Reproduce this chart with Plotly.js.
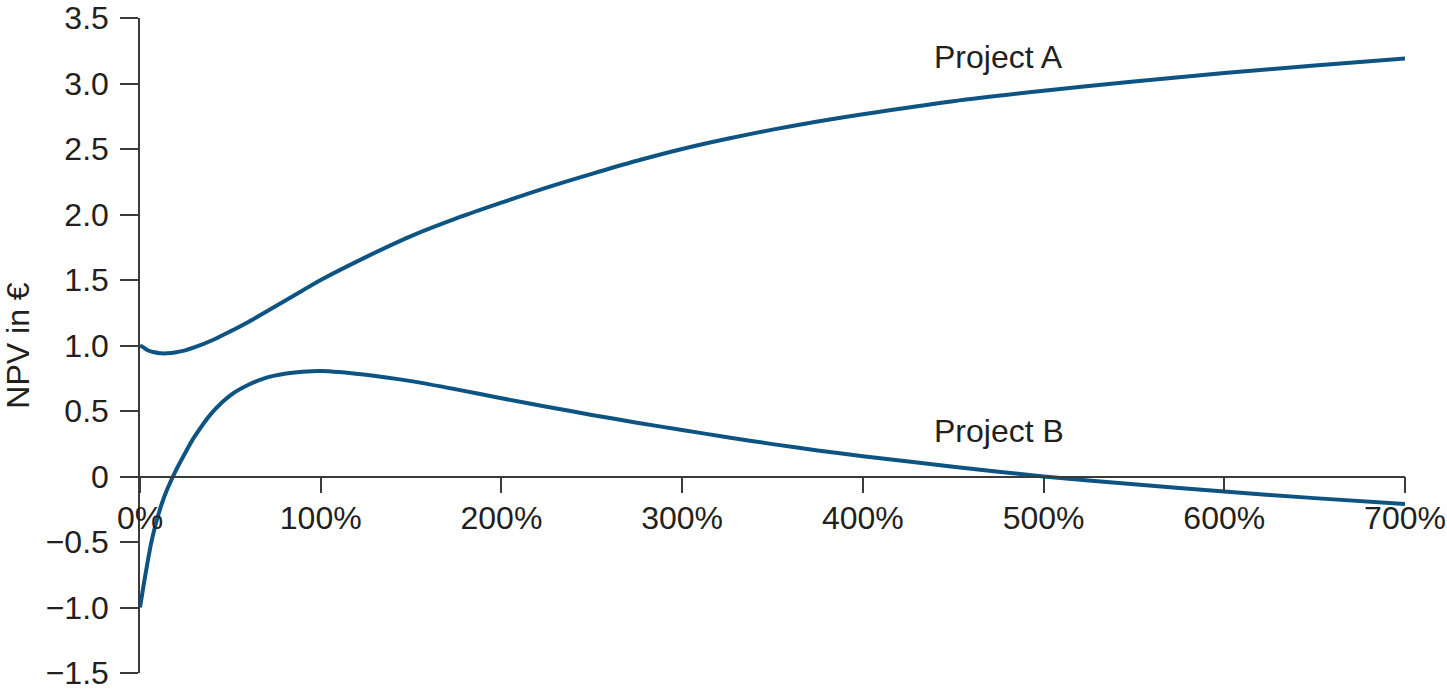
<!DOCTYPE html>
<html>
<head>
<meta charset="utf-8">
<script src="https://cdn.plot.ly/plotly-3.0.1.min.js"></script>
<style>
  html, body { margin: 0; padding: 0; background: #ffffff; }
  #chart { width: 1447px; height: 690px; }
</style>
</head>
<body>
<div id="chart"></div>
<script>
// Discount rate in percent
const rates = [0, 2, 4, 6, 8, 10, 12, 15, 20, 25, 30, 40, 50, 60, 70, 80, 90, 100, 125, 150, 175, 200, 225, 250, 275, 300, 325, 350, 375, 400, 450, 500, 550, 600, 650, 700];
// NPV in € – Project A
const npvA = [1.00, 0.985, 0.966, 0.955, 0.948, 0.943, 0.94, 0.94, 0.948, 0.963, 0.985, 1.04, 1.108, 1.18, 1.26, 1.34, 1.42, 1.50, 1.675, 1.835, 1.97, 2.09, 2.205, 2.31, 2.41, 2.50, 2.578, 2.648, 2.71, 2.765, 2.865, 2.945, 3.015, 3.08, 3.137, 3.19];
// NPV in € – Project B
const npvB = [-1.00, -0.83, -0.67, -0.52, -0.40, -0.30, -0.21, -0.10, 0.05, 0.18, 0.30, 0.49, 0.62, 0.70, 0.755, 0.785, 0.80, 0.806, 0.777, 0.728, 0.665, 0.597, 0.533, 0.47, 0.411, 0.355, 0.30, 0.247, 0.199, 0.155, 0.075, 0.00, -0.06, -0.115, -0.165, -0.21];

const xTickVals = [0, 100, 200, 300, 400, 500, 600, 700];
const xTickText = ["0%", "100%", "200%", "300%", "400%", "500%", "600%", "700%"];
const yTickVals = [3.5, 3.0, 2.5, 2.0, 1.5, 1.0, 0.5, 0, -0.5, -1.0, -1.5];
const yTickText = ["3.5", "3.0", "2.5", "2.0", "1.5", "1.0", "0.5", "0", "\u22120.5", "\u22121.0", "\u22121.5"];

const seriesNames = ["Project A", "Project B"];
const axisTitleY = "NPV in \u20ac";
const axisLabelX = "Discount rate";

const lineColor = "#0d5482";
const textColor = "#231f20";
const axisColor = "#3a3a3a";
const fontFamily = "'Liberation Sans', Arial, Helvetica, sans-serif";
const fs = 32;

const traces = [
  { x: rates, y: npvA, name: seriesNames[0], mode: "lines",
    line: { color: lineColor, width: 4, shape: "spline", smoothing: 0.8 }, hoverinfo: "x+y" },
  { x: rates, y: npvB, name: seriesNames[1], mode: "lines",
    line: { color: lineColor, width: 4, shape: "spline", smoothing: 0.8 }, hoverinfo: "x+y" }
];

const layout = {
  width: 1447, height: 690,
  margin: { l: 140, r: 42, t: 18, b: 17 },
  paper_bgcolor: "#ffffff", plot_bgcolor: "#ffffff",
  showlegend: false,
  font: { family: fontFamily, size: fs, color: textColor },
  xaxis: {
    range: [0, 700], fixedrange: true,
    anchor: "free", position: 0.3,
    showgrid: false, zeroline: false,
    showline: true, linecolor: axisColor, linewidth: 1.5,
    ticks: "outside", ticklen: 16, tickwidth: 1.5, tickcolor: axisColor,
    tickvals: xTickVals, ticktext: xTickText,
    tickfont: { family: fontFamily, size: fs, color: textColor },
    ticklabelstandoff: -3,
    ticklabeloverflow: "allow",
    automargin: false
  },
  yaxis: {
    range: [-1.5, 3.5], fixedrange: true,
    showgrid: false, zeroline: false,
    showline: true, linecolor: axisColor, linewidth: 1.5,
    ticks: "outside", ticklen: 18, tickwidth: 1.5, tickcolor: axisColor,
    tickvals: yTickVals, ticktext: yTickText,
    tickfont: { family: fontFamily, size: fs, color: textColor },
    ticklabelstandoff: 5,
    ticklabeloverflow: "allow",
    title: { text: axisTitleY, font: { family: fontFamily, size: fs, color: textColor }, standoff: 14 },
    automargin: false
  },
  annotations: [
    { x: 474.8, y: 3.2, xref: "x", yref: "y", text: seriesNames[0], showarrow: false,
      xanchor: "center", yanchor: "middle", font: { family: fontFamily, size: fs, color: textColor } },
    { x: 475.4, y: 0.345, xref: "x", yref: "y", text: seriesNames[1], showarrow: false,
      xanchor: "center", yanchor: "middle", font: { family: fontFamily, size: fs, color: textColor } },
    { x: 703, y: 0.36, xref: "x", yref: "y", text: axisLabelX, showarrow: false,
      xanchor: "right", yanchor: "middle", font: { family: fontFamily, size: fs, color: textColor } }
  ]
};

Plotly.newPlot("chart", traces, layout, { displayModeBar: false, responsive: false });
</script>
</body>
</html>
